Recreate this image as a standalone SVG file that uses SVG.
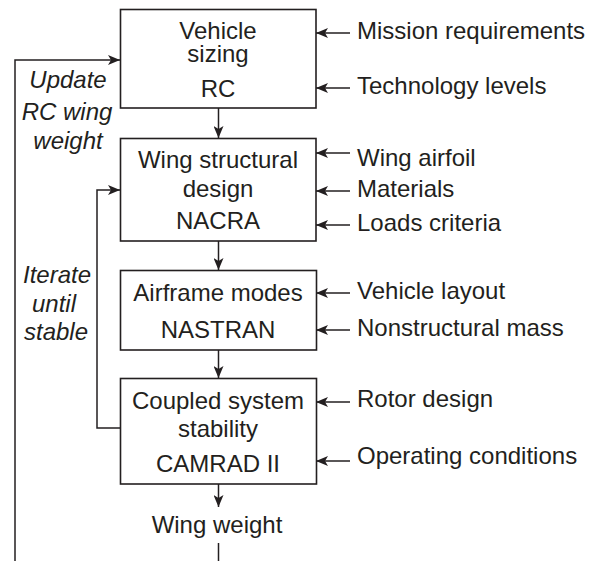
<svg xmlns="http://www.w3.org/2000/svg" width="599" height="561" viewBox="0 0 599 561">
<style>
.box{fill:#fff;stroke:#231f20;stroke-width:1.6}
.ln{fill:none;stroke:#231f20;stroke-width:1.5}
text{font-family:"Liberation Sans",Arial,Helvetica,sans-serif;font-size:24px;fill:#231f20}
.c{text-anchor:middle}
.it{font-style:italic;text-anchor:middle}
</style>
<defs>
<marker id="ah" viewBox="0 0 12 10" markerUnits="userSpaceOnUse" markerWidth="12" markerHeight="10" refX="12" refY="5" orient="auto">
<path d="M0,0 L12,5 L0,10 L3,5 z" fill="#231f20"/>
</marker>
</defs>
<rect width="599" height="561" fill="#fff"/>
<g id="connectors">
<path class="ln" d="M218.5,108 V138" marker-end="url(#ah)"/>
<path class="ln" d="M218.5,241 V270" marker-end="url(#ah)"/>
<path class="ln" d="M218.5,350 V378" marker-end="url(#ah)"/>
<path class="ln" d="M218.5,484 V507" marker-end="url(#ah)"/>
<path class="ln" d="M218.5,543 V561"/>
<path class="ln" d="M15,561 V60 H120" marker-end="url(#ah)"/>
<path class="ln" d="M120,428 H97 V190 H120" marker-end="url(#ah)"/>
<path class="ln" d="M350,33 H316" marker-end="url(#ah)"/>
<path class="ln" d="M350,88 H316" marker-end="url(#ah)"/>
<path class="ln" d="M350,153 H316" marker-end="url(#ah)"/>
<path class="ln" d="M350,191 H316" marker-end="url(#ah)"/>
<path class="ln" d="M350,225 H316" marker-end="url(#ah)"/>
<path class="ln" d="M350,293 H316" marker-end="url(#ah)"/>
<path class="ln" d="M350,330 H316" marker-end="url(#ah)"/>
<path class="ln" d="M350,402 H316" marker-end="url(#ah)"/>
<path class="ln" d="M350,461 H316" marker-end="url(#ah)"/>
</g>
<g id="vehicle-sizing">
<rect class="box" x="120.5" y="9.5" width="195.5" height="98.5"/>
<text class="c" x="218" y="39">Vehicle</text>
<text class="c" x="218" y="62">sizing</text>
<text class="c" x="218" y="97">RC</text>
</g>
<g id="wing-structural-design">
<rect class="box" x="120.5" y="138.5" width="195.5" height="102.5"/>
<text class="c" x="218" y="168">Wing structural</text>
<text class="c" x="218" y="197">design</text>
<text class="c" x="218" y="229">NACRA</text>
</g>
<g id="airframe-modes">
<rect class="box" x="120.5" y="270.5" width="196" height="79.5"/>
<text class="c" x="218" y="300.5">Airframe modes</text>
<text class="c" x="218" y="338">NASTRAN</text>
</g>
<g id="coupled-system-stability">
<rect class="box" x="120.5" y="378.5" width="196" height="105.5"/>
<text class="c" x="218" y="409">Coupled system</text>
<text class="c" x="218" y="437">stability</text>
<text class="c" x="218" y="471.5">CAMRAD II</text>
</g>
<g id="wing-weight">
<text class="c" x="217" y="532.5">Wing weight</text>
</g>
<g id="inputs">
<text x="357" y="39">Mission requirements</text>
<text x="357" y="94">Technology levels</text>
<text x="357" y="166">Wing airfoil</text>
<text x="357" y="197">Materials</text>
<text x="357" y="231">Loads criteria</text>
<text x="357" y="299">Vehicle layout</text>
<text x="357" y="336">Nonstructural mass</text>
<text x="357" y="407">Rotor design</text>
<text x="357" y="464">Operating conditions</text>
</g>
<g id="loop-labels">
<text class="it" x="68" y="88">Update</text>
<text class="it" x="67" y="120">RC wing</text>
<text class="it" x="68" y="149">weight</text>
<text class="it" x="57" y="282.5">Iterate</text>
<text class="it" x="54" y="311.5">until</text>
<text class="it" x="56" y="340">stable</text>
</g>
</svg>
